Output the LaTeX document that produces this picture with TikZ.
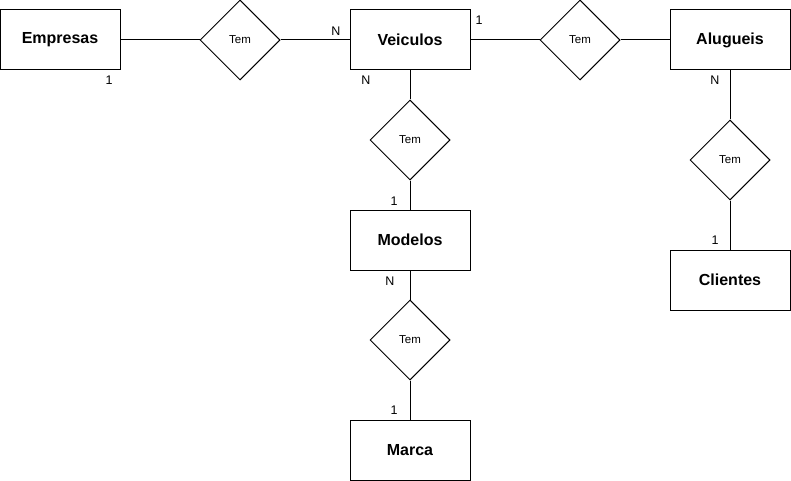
\documentclass[tikz,border=0pt]{standalone}
\usepackage{fontspec}
\setmainfont{Liberation Sans}
\usetikzlibrary{shapes.geometric}
\begin{document}
\begin{tikzpicture}[x=1pt,y=-1pt,
  entity/.style={draw=black,line width=1pt,minimum width=120pt,minimum height=60pt,inner sep=0pt,font=\fontsize{16}{19}\selectfont\bfseries},
  rel/.style={draw=black,line width=1pt,diamond,minimum width=80pt,minimum height=80pt,inner sep=0pt,font=\fontsize{11.5}{13}\selectfont},
  card/.style={font=\fontsize{12.5}{14}\selectfont,inner sep=0pt},
  conn/.style={line width=1pt}]
\useasboundingbox (0,0) rectangle (791,481);
\node[entity] (emp) at (60,40) {Empresas};
\node[entity] (vei) at (410,40) {Veiculos};
\node[entity] (alu) at (730,40) {Alugueis};
\node[entity] (mod) at (410,240) {Modelos};
\node[entity] (cli) at (730,280) {Clientes};
\node[entity] (mar) at (410,450) {Marca};
\node[rel] (r1) at (240,40) {Tem};
\node[rel] (r2) at (580,40) {Tem};
\node[rel] (r3) at (410,140) {Tem};
\node[rel] (r4) at (730,160) {Tem};
\node[rel] (r5) at (410,340) {Tem};
\draw[conn] (emp) -- (r1);
\draw[conn] (r1) -- (vei);
\draw[conn] (vei) -- (r2);
\draw[conn] (r2) -- (alu);
\draw[conn] (vei) -- (r3);
\draw[conn] (r3) -- (mod);
\draw[conn] (alu) -- (r4);
\draw[conn] (r4) -- (cli);
\draw[conn] (mod) -- (r5);
\draw[conn] (r5) -- (mar);
\node[card] (c1) at (109,80) {1};
\node[card] (c2) at (336,31) {N};
\node[card] (c3) at (366,80) {N};
\node[card] (c4) at (479,20) {1};
\node[card] (c5) at (715,80) {N};
\node[card] (c6) at (715,240) {1};
\node[card] (c7) at (394,201) {1};
\node[card] (c8) at (390,281) {N};
\node[card] (c9) at (394,410) {1};
\end{tikzpicture}
\end{document}
